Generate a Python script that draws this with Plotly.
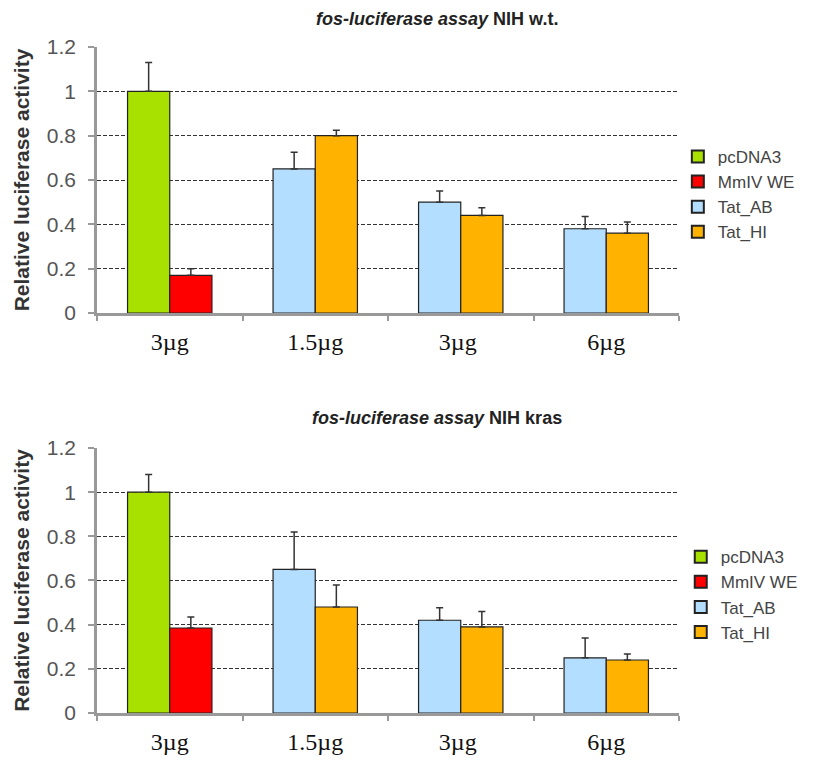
import plotly.graph_objects as go

categories = ["3µg", "1.5µg", "3µg ", "6µg"]
series_names = ["pcDNA3", "MmIV WE", "Tat_AB", "Tat_HI"]
colors = ["#A8E000", "#FF0000", "#B3DEFF", "#FFB300"]

# Panel 1: NIH w.t.
wt_pcdna3 = [1.00, None, None, None]
wt_pcdna3_err = [0.13, 0, 0, 0]
wt_mmiv = [0.17, None, None, None]
wt_mmiv_err = [0.03, 0, 0, 0]
wt_tat_ab = [None, 0.65, 0.50, 0.38]
wt_tat_ab_err = [0, 0.075, 0.05, 0.055]
wt_tat_hi = [None, 0.80, 0.44, 0.36]
wt_tat_hi_err = [0, 0.025, 0.035, 0.05]

# Panel 2: NIH kras
kr_pcdna3 = [1.00, None, None, None]
kr_pcdna3_err = [0.08, 0, 0, 0]
kr_mmiv = [0.385, None, None, None]
kr_mmiv_err = [0.05, 0, 0, 0]
kr_tat_ab = [None, 0.65, 0.42, 0.25]
kr_tat_ab_err = [0, 0.17, 0.057, 0.09]
kr_tat_hi = [None, 0.48, 0.39, 0.24]
kr_tat_hi_err = [0, 0.10, 0.07, 0.027]

panels = [
    ([wt_pcdna3, wt_mmiv, wt_tat_ab, wt_tat_hi],
     [wt_pcdna3_err, wt_mmiv_err, wt_tat_ab_err, wt_tat_hi_err]),
    ([kr_pcdna3, kr_mmiv, kr_tat_ab, kr_tat_hi],
     [kr_pcdna3_err, kr_mmiv_err, kr_tat_ab_err, kr_tat_hi_err]),
]
offsetgroups = ["a", "b", "a", "b"]

fig = go.Figure()
for p, (vals, errs) in enumerate(panels):
    xa = "x" if p == 0 else "x2"
    ya = "y" if p == 0 else "y2"
    lg = "legend" if p == 0 else "legend2"
    for i in range(4):
        fig.add_trace(go.Bar(
            x=categories, y=vals[i], name=series_names[i],
            xaxis=xa, yaxis=ya, legend=lg,
            offsetgroup=offsetgroups[i],
            marker=dict(color=colors[i], line=dict(color="#222222", width=1.2)),
            error_y=dict(type="data", symmetric=False, array=errs[i],
                         arrayminus=[0] * 4, color="#333333",
                         thickness=1.5, width=3.5),
        ))

axis_y = dict(range=[0, 1.2], dtick=0.2, tickformat="~g",
              showgrid=True, gridcolor="#333333", griddash="4px,2px", gridwidth=1,
              showline=True, linecolor="#999999", linewidth=2.5,
              ticks="outside", ticklen=6, tickcolor="#999999", tickwidth=2,
              ticklabelstandoff=8,
              tickfont=dict(family="Liberation Sans", size=21, color="#555555"),
              title=dict(text="<b>Relative luciferase activity</b>",
                         font=dict(family="Liberation Sans", size=21, color="#333333"),
                         standoff=12),
              zeroline=False, automargin=False)
axis_x = dict(type="category", showline=True, linecolor="#999999", linewidth=2.5,
              ticks="outside", tickson="boundaries", ticklen=5,
              tickcolor="#999999", tickwidth=2, ticklabelstandoff=5,
              tickfont=dict(family="Liberation Serif", size=24, color="#111111"),
              showgrid=False, automargin=False)

legend_style = dict(xanchor="left", yanchor="top",
                    font=dict(family="Liberation Sans", size=17, color="#444444"),
                    tracegroupgap=0, traceorder="normal", itemsizing="constant")

fig.update_layout(
    width=818, height=764,
    margin=dict(l=89, r=147, t=39, b=59, autoexpand=False),
    paper_bgcolor="white", plot_bgcolor="white",
    barmode="group", bargap=0.42, bargroupgap=0,
    showlegend=True,
    xaxis=dict(axis_x, domain=[0, 1], anchor="y"),
    yaxis=dict(axis_y, domain=[0.6006, 1.0], anchor="x"),
    xaxis2=dict(axis_x, domain=[0, 1], anchor="y2"),
    yaxis2=dict(axis_y, domain=[0.0, 0.3979], anchor="x2"),
    legend=dict(legend_style, x=0.998, y=0.862),
    legend2=dict(legend_style, x=1.003, y=0.261),
    annotations=[
        dict(text="<b><i>fos-luciferase assay</i> NIH w.t.</b>", xref="paper", yref="paper",
             x=0.585, y=1.0, yshift=28, xanchor="center", yanchor="middle", showarrow=False,
             font=dict(family="Liberation Sans", size=18, color="#222222")),
        dict(text="<b><i>fos-luciferase assay</i> NIH kras</b>", xref="paper", yref="paper",
             x=0.585, y=0.3979, yshift=30, xanchor="center", yanchor="middle", showarrow=False,
             font=dict(family="Liberation Sans", size=18, color="#222222")),
    ],
)

fig.write_html("out.html")
